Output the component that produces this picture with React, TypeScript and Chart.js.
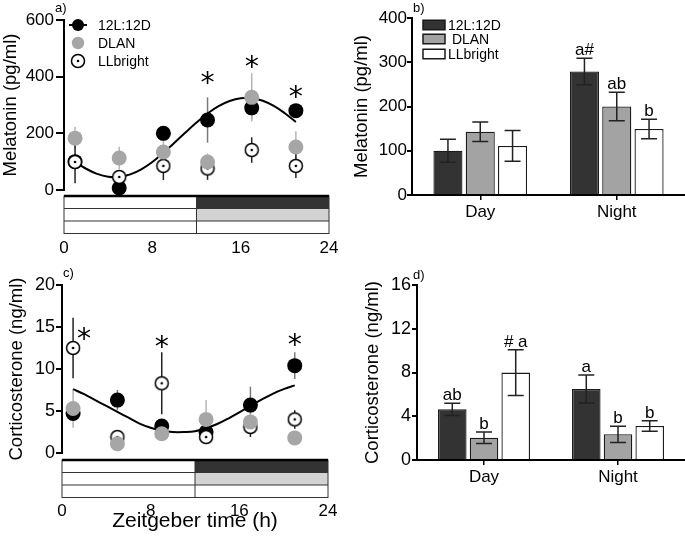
import React, { useEffect, useRef } from 'react';
import { Chart, registerables } from 'chart.js';

Chart.register(...registerables);

const FONT = "'Liberation Sans', Arial, Helvetica, sans-serif";
const STAR_FONT = "'DejaVu Sans', sans-serif";

// ---------- shared categories ----------
const sampleHours = [1, 5, 9, 13, 17, 21];
const fitHours = [1, 2, 3, 4, 5, 6, 7, 8, 9, 10, 11, 12, 13, 14, 15, 16, 17, 18, 19, 20, 21];
const hourTicks = [0, 8, 16, 24];
const groupNames = ['12L:12D', 'DLAN', 'LLbright'];
const phaseNames = ['Day', 'Night'];
const lightBoundaryHour = 12;

// ---------- a) melatonin daily profile ----------
const melLD = [100, 7, 200, 247, 290, 280];
const melLDErr = [20, 8, 25, 80, 40, 18];
const melDLAN = [183, 113, 134, 99, 327, 152];
const melDLANErr = [40, 40, 60, 30, 85, 55];
const melLL = [99, 46, 85, 76, 141, 85];
const melLLErr = [75, 20, 50, 40, 45, 43];
const melFit = [100, 75, 57, 47, 46, 55, 73, 99, 131, 167, 203, 238, 270, 296, 314, 324, 325, 315, 297, 271, 240];
const melTicks = [0, 200, 400, 600];
const melStarHours = [13, 17, 21];
const melStarLevels = [395, 452, 346];

// ---------- b) melatonin day / night ----------
const melBarLD = [100, 279];
const melBarLDErr = [26, 30];
const melBarDLAN = [143, 200];
const melBarDLANErr = [22, 32];
const melBarLL = [111, 149];
const melBarLLErr = [35, 22];
const melBarLetters = [['', 'a#'], ['', 'ab'], ['', 'b']];
const melBarTicks = [0, 100, 200, 300, 400];

// ---------- c) corticosterone daily profile ----------
const corLD = [4.7, 6.3, 3.2, 2.5, 5.7, 10.4];
const corLDErr = [0.5, 1.2, 0.6, 0.5, 2.2, 1.6];
const corDLAN = [5.3, 1.1, 2.3, 4.0, 3.7, 1.8];
const corDLANErr = [2.3, 0.4, 0.5, 2.3, 1.0, 0.4];
const corLL = [12.5, 1.9, 8.3, 1.9, 3.1, 4.0];
const corLLErr = [3.6, 0.4, 3.7, 0.5, 1.2, 1.1];
const corFit = [7.6, 7.0, 6.3, 5.6, 4.9, 4.2, 3.5, 3.0, 2.65, 2.5, 2.5, 2.6, 2.95, 3.45, 4.1, 4.85, 5.6, 6.35, 7.05, 7.6, 8.05];
const corTicks = [0, 5, 10, 15, 20];
const corStarHours = [2, 9, 21];
const corStarLevels = [14.2, 13.2, 13.5];

// ---------- d) corticosterone day / night ----------
const corBarLD = [4.63, 6.49];
const corBarLDErr = [0.56, 1.28];
const corBarDLAN = [2.04, 2.35];
const corBarDLANErr = [0.53, 0.74];
const corBarLL = [7.99, 3.11];
const corBarLLErr = [2.1, 0.49];
const corBarLetters = [['ab', 'a'], ['b', 'b'], ['# a', 'b']];
const corBarTicks = [0, 4, 8, 12, 16];

// ---------- styles ----------
const BLACK = '#000000';
const GREY_PT = '#a6a6a6';
const BAR_COLORS = ['#333333', '#a3a3a3', '#ffffff'];
const SCHEDULE = [
  ['#ffffff', '#333333'],
  ['#ffffff', '#d3d3d3'],
  ['#ffffff', '#ffffff'],
];

function makeLLPoint(r: number) {
  const c = document.createElement('canvas');
  const s = Math.ceil(r * 2 + 3);
  c.width = s;
  c.height = s;
  const g = c.getContext('2d')!;
  g.beginPath();
  g.arc(s / 2, s / 2, r, 0, Math.PI * 2);
  g.fillStyle = '#fff';
  g.fill();
  g.lineWidth = 1.5;
  g.strokeStyle = '#000';
  g.stroke();
  g.beginPath();
  g.arc(s / 2, s / 2, 1.3, 0, Math.PI * 2);
  g.fillStyle = '#000';
  g.fill();
  return c;
}

function drawStar(ctx: CanvasRenderingContext2D, x: number, cy: number) {
  ctx.save();
  ctx.font = `100px ${STAR_FONT}`;
  const m = ctx.measureText('*');
  const h100 = m.actualBoundingBoxAscent + m.actualBoundingBoxDescent;
  const size = (13 / h100) * 100;
  ctx.font = `${size}px ${STAR_FONT}`;
  const m2 = ctx.measureText('*');
  ctx.textAlign = 'center';
  ctx.textBaseline = 'alphabetic';
  ctx.fillStyle = '#000';
  const base = cy - (m2.actualBoundingBoxDescent - m2.actualBoundingBoxAscent) / 2;
  ctx.fillText('*', x, base);
  ctx.restore();
}

function tickSetter(values: number[]) {
  return (s: any) => {
    s.ticks = values.map((v) => ({ value: v }));
  };
}

interface ScatterCfg {
  ld: number[]; ldErr: number[];
  dlan: number[]; dlanErr: number[];
  ll: number[]; llErr: number[];
  fit: number[];
  yTicks: number[];
  yTitle: string;
  yTitlePad: number;
  yTickSize: number;
  yTickLen: number;
  yTickPad: number;
  area: { left: number; right: number; top: number; bottom: number; w: number; h: number };
  starHours: number[];
  starLevels: number[];
  legend: boolean;
  xTitle?: string;
  xTickDrop: number;
  scheduleGap: number;
  label: string;
  labelPos: [number, number];
}

function scatterConfig(c: ScatterCfg): any {
  const pts = (vals: number[]) => sampleHours.map((h, i) => ({ x: h, y: vals[i] }));
  const llImg = makeLLPoint(6.5);
  const errSets = [
    { vals: c.ld, errs: c.ldErr, color: '#7a7a7a' },
    { vals: c.dlan, errs: c.dlanErr, color: '#b5b5b5' },
    { vals: c.ll, errs: c.llErr, color: '#222222' },
  ];
  const plugin = {
    id: 'scatterExtras',
    beforeDatasetsDraw(chart: any) {
      const { ctx, scales } = chart;
      const x = scales.x, y = scales.y;
      ctx.save();
      errSets.forEach((set) => {
        ctx.strokeStyle = set.color;
        ctx.lineWidth = 1.5;
        sampleHours.forEach((h, i) => {
          const px = x.getPixelForValue(h);
          ctx.beginPath();
          ctx.moveTo(px, y.getPixelForValue(set.vals[i] - set.errs[i]));
          ctx.lineTo(px, y.getPixelForValue(set.vals[i] + set.errs[i]));
          ctx.stroke();
        });
      });
      ctx.restore();
    },
    afterDraw(chart: any) {
      const { ctx, scales, chartArea } = chart;
      const x = scales.x, y = scales.y;
      ctx.save();
      // light schedule bar
      const x0 = x.getPixelForValue(0);
      const xm = x.getPixelForValue(lightBoundaryHour);
      const x1 = x.getPixelForValue(24);
      const top = chartArea.bottom + c.scheduleGap;
      const rowH = 12.5;
      SCHEDULE.forEach((row, r) => {
        ctx.fillStyle = row[0];
        ctx.fillRect(x0, top + r * rowH, xm - x0, rowH);
        ctx.fillStyle = row[1];
        ctx.fillRect(xm, top + r * rowH, x1 - xm, rowH);
      });
      ctx.strokeStyle = '#333';
      ctx.lineWidth = 1;
      ctx.strokeRect(x0, top, x1 - x0, rowH * 3);
      for (let r = 1; r < 3; r++) {
        ctx.beginPath();
        ctx.moveTo(x0, top + r * rowH);
        ctx.lineTo(x1, top + r * rowH);
        ctx.stroke();
      }
      ctx.beginPath();
      ctx.moveTo(xm, top);
      ctx.lineTo(xm, top + rowH * 3);
      ctx.stroke();
      ctx.strokeStyle = '#000';
      ctx.lineWidth = 2.5;
      ctx.beginPath();
      ctx.moveTo(x0, top);
      ctx.lineTo(x1, top);
      ctx.stroke();
      // stars
      c.starHours.forEach((h, i) => drawStar(ctx, x.getPixelForValue(h), y.getPixelForValue(c.starLevels[i])));
      // legend
      if (c.legend) {
        const lx = chartArea.left + 14;
        const tx = chartArea.left + 34;
        const rows = [chartArea.top + 5, chartArea.top + 23, chartArea.top + 41];
        ctx.font = `14px ${FONT}`;
        ctx.textAlign = 'left';
        ctx.textBaseline = 'middle';
        ctx.strokeStyle = '#000';
        ctx.lineWidth = 2;
        ctx.beginPath();
        ctx.moveTo(lx - 9, rows[0]);
        ctx.lineTo(lx + 9, rows[0]);
        ctx.stroke();
        ctx.beginPath();
        ctx.arc(lx, rows[0], 6, 0, Math.PI * 2);
        ctx.fillStyle = '#000';
        ctx.fill();
        ctx.beginPath();
        ctx.arc(lx, rows[1], 6.2, 0, Math.PI * 2);
        ctx.fillStyle = GREY_PT;
        ctx.fill();
        ctx.drawImage(llImg, lx - llImg.width / 2, rows[2] - llImg.height / 2);
        ctx.fillStyle = '#000';
        groupNames.forEach((n, i) => ctx.fillText(n, tx, rows[i] + 1));
      }
      // panel label
      ctx.font = `13px ${FONT}`;
      ctx.textAlign = 'left';
      ctx.textBaseline = 'alphabetic';
      ctx.fillStyle = '#000';
      ctx.fillText(c.label, c.labelPos[0], c.labelPos[1]);
      ctx.restore();
    },
  };

  const a = c.area;
  return {
    type: 'scatter',
    data: {
      datasets: [
        {
          type: 'line',
          data: fitHours.map((h, i) => ({ x: h, y: c.fit[i] })),
          borderColor: '#000',
          borderWidth: 2,
          pointRadius: 0,
          tension: 0.4,
          fill: false,
          order: 3,
          clip: false,
        },
        {
          label: groupNames[0],
          data: pts(c.ld),
          backgroundColor: BLACK,
          borderWidth: 0,
          pointRadius: 7.5,
          order: 2,
          clip: false,
        },
        {
          label: groupNames[2],
          data: pts(c.ll),
          pointStyle: llImg,
          pointRadius: 7,
          order: 1,
          clip: false,
        },
        {
          label: groupNames[1],
          data: pts(c.dlan),
          backgroundColor: GREY_PT,
          borderWidth: 0,
          pointRadius: 7.5,
          order: 0,
          clip: false,
        },
      ],
    },
    options: {
      animation: false,
      responsive: false,
      events: [],
      layout: { padding: { left: 0, right: a.w - a.right, top: a.top, bottom: 0 } },
      plugins: { legend: { display: false }, tooltip: { enabled: false }, title: { display: false } },
      scales: {
        x: {
          type: 'linear',
          min: 0,
          max: 24,
          afterBuildTicks: tickSetter(hourTicks),
          afterFit: (s: any) => { s.height = a.h - a.bottom; },
          border: { display: false },
          grid: { display: false, drawTicks: true, tickLength: c.xTickDrop },
          ticks: { padding: 0, color: '#000', font: { family: FONT, size: 17 }, maxRotation: 0 },
          title: c.xTitle
            ? { display: true, text: c.xTitle, color: '#000', font: { family: FONT, size: 21 }, padding: { top: 0, bottom: 3 } }
            : { display: false },
        },
        y: {
          type: 'linear',
          min: c.yTicks[0],
          max: c.yTicks[c.yTicks.length - 1],
          afterBuildTicks: tickSetter(c.yTicks),
          afterFit: (s: any) => { s.width = a.left; },
          border: { display: true, color: '#000', width: 2 },
          grid: { drawOnChartArea: false, drawTicks: true, tickLength: c.yTickLen, color: '#000', lineWidth: 2 },
          ticks: { padding: c.yTickPad, color: '#000', font: { family: FONT, size: c.yTickSize } },
          title: { display: true, text: c.yTitle, color: '#000', font: { family: FONT, size: 18.5 }, padding: { top: c.yTitlePad, bottom: 0 } },
        },
      },
    },
    plugins: [plugin],
  };
}

interface BarCfg {
  series: number[][];
  errs: number[][];
  letters: string[][];
  yTicks: number[];
  yTitle: string;
  yTitlePad: number;
  yTickSize: number;
  yTickPad: number;
  area: { left: number; right: number; top: number; bottom: number; w: number; h: number };
  legend: boolean;
  label: string;
  labelPos: [number, number];
}

function barConfig(c: BarCfg): any {
  const plugin = {
    id: 'barExtras',
    afterDatasetsDraw(chart: any) {
      const { ctx, scales, chartArea } = chart;
      const y = scales.y;
      ctx.save();
      chart.data.datasets.forEach((ds: any, di: number) => {
        const meta = chart.getDatasetMeta(di);
        meta.data.forEach((bar: any, i: number) => {
          const v = ds.data[i];
          const e = c.errs[di][i];
          const px = bar.x;
          const yt = y.getPixelForValue(v + e);
          const yb = y.getPixelForValue(v - e);
          ctx.strokeStyle = '#222';
          ctx.lineWidth = 1.5;
          ctx.beginPath();
          ctx.moveTo(px, yt);
          ctx.lineTo(px, yb);
          ctx.moveTo(px - 8, yt);
          ctx.lineTo(px + 8, yt);
          ctx.moveTo(px - 8, yb);
          ctx.lineTo(px + 8, yb);
          ctx.stroke();
          const letter = c.letters[di][i];
          if (letter) {
            ctx.font = `17px ${FONT}`;
            ctx.textAlign = 'center';
            ctx.textBaseline = 'alphabetic';
            ctx.fillStyle = '#000';
            ctx.fillText(letter, px, yt - 3);
          }
        });
      });
      if (c.legend) {
        const bx = chartArea.left + 11;
        const tx = chartArea.left + 36;
        const rows = [chartArea.top + 7, chartArea.top + 21, chartArea.top + 36];
        ctx.font = `14px ${FONT}`;
        ctx.textAlign = 'left';
        ctx.textBaseline = 'middle';
        const legendTexts = ['12L:12D', ' DLAN', 'LLbright'];
        rows.forEach((ry, i) => {
          ctx.fillStyle = BAR_COLORS[i];
          ctx.fillRect(bx, ry - 4.75, 22, 9.5);
          ctx.strokeStyle = '#1a1a1a';
          ctx.lineWidth = 1.5;
          ctx.strokeRect(bx, ry - 4.75, 22, 9.5);
          ctx.fillStyle = '#000';
          ctx.fillText(legendTexts[i], tx, ry + 1);
        });
      }
      ctx.font = `13px ${FONT}`;
      ctx.textAlign = 'left';
      ctx.textBaseline = 'alphabetic';
      ctx.fillStyle = '#000';
      ctx.fillText(c.label, c.labelPos[0], c.labelPos[1]);
      ctx.restore();
    },
  };
  const a = c.area;
  return {
    type: 'bar',
    data: {
      labels: phaseNames,
      datasets: c.series.map((s, i) => ({
        label: groupNames[i],
        data: s,
        backgroundColor: BAR_COLORS[i],
        borderColor: '#1a1a1a',
        borderWidth: 1.3,
        barPercentage: 0.9,
        categoryPercentage: 0.71,
      })),
    },
    options: {
      animation: false,
      responsive: false,
      events: [],
      layout: { padding: { left: 0, right: a.w - a.right, top: a.top, bottom: 0 } },
      plugins: { legend: { display: false }, tooltip: { enabled: false }, title: { display: false } },
      scales: {
        x: {
          offset: true,
          afterFit: (s: any) => { s.height = a.h - a.bottom; },
          border: { display: true, color: '#000', width: 2 },
          grid: { display: true, drawOnChartArea: false, drawTicks: true, tickLength: 5, offset: false, color: '#000', lineWidth: 1.5 },
          ticks: { padding: 2, color: '#000', font: { family: FONT, size: 17 } },
        },
        y: {
          type: 'linear',
          min: c.yTicks[0],
          max: c.yTicks[c.yTicks.length - 1],
          afterBuildTicks: tickSetter(c.yTicks),
          afterFit: (s: any) => { s.width = a.left; },
          border: { display: true, color: '#000', width: 2 },
          grid: { drawOnChartArea: false, drawTicks: true, tickLength: 5, color: '#000', lineWidth: 2 },
          ticks: { padding: c.yTickPad, color: '#000', font: { family: FONT, size: c.yTickSize } },
          title: { display: true, text: c.yTitle, color: '#000', font: { family: FONT, size: 18.5 }, padding: { top: c.yTitlePad, bottom: 0 } },
        },
      },
    },
    plugins: [plugin],
  };
}

function Panel(props: { left: number; top: number; width: number; height: number; build: () => any }) {
  const ref = useRef<HTMLCanvasElement>(null);
  useEffect(() => {
    const chart = new Chart(ref.current as HTMLCanvasElement, props.build());
    return () => chart.destroy();
  }, []);
  return (
    <canvas
      ref={ref}
      width={props.width}
      height={props.height}
      style={{ position: 'absolute', left: props.left, top: props.top, width: props.width, height: props.height }}
    />
  );
}

const buildA = () =>
  scatterConfig({
    ld: melLD, ldErr: melLDErr, dlan: melDLAN, dlanErr: melDLANErr, ll: melLL, llErr: melLLErr,
    fit: melFit, yTicks: melTicks, yTitle: 'Melatonin (pg/ml)', yTitlePad: 0, yTickSize: 17, yTickLen: 8, yTickPad: 2,
    area: { left: 64, right: 329, top: 20, bottom: 190, w: 340, h: 260 },
    starHours: melStarHours, starLevels: melStarLevels, legend: true,
    xTickDrop: 48, scheduleGap: 6, label: 'a)', labelPos: [55, 12],
  });

const buildC = () =>
  scatterConfig({
    ld: corLD, ldErr: corLDErr, dlan: corDLAN, dlanErr: corDLANErr, ll: corLL, llErr: corLLErr,
    fit: corFit, yTicks: corTicks, yTitle: 'Corticosterone (ng/ml)', yTitlePad: 6, yTickSize: 18, yTickLen: 6, yTickPad: 1,
    area: { left: 62, right: 328, top: 25, bottom: 193, w: 340, h: 277 },
    starHours: corStarHours, starLevels: corStarLevels, legend: false,
    xTitle: 'Zeitgeber time (h)', xTickDrop: 48, scheduleGap: 7, label: 'c)', labelPos: [63, 17],
  });

const buildB = () =>
  barConfig({
    series: [melBarLD, melBarDLAN, melBarLL],
    errs: [melBarLDErr, melBarDLANErr, melBarLLErr],
    letters: melBarLetters, yTicks: melBarTicks, yTitle: 'Melatonin (pg/ml)', yTitlePad: 11, yTickSize: 17, yTickPad: 0,
    area: { left: 72, right: 345, top: 18, bottom: 195, w: 345, h: 260 },
    legend: true, label: 'b)', labelPos: [73, 12],
  });

const buildD = () =>
  barConfig({
    series: [corBarLD, corBarDLAN, corBarLL],
    errs: [corBarLDErr, corBarDLANErr, corBarLLErr],
    letters: corBarLetters, yTicks: corBarTicks, yTitle: 'Corticosterone (ng/ml)', yTitlePad: 22, yTickSize: 18, yTickPad: 1,
    area: { left: 77, right: 345, top: 25, bottom: 200, w: 345, h: 277 },
    legend: false, label: 'd)', labelPos: [73, 19],
  });

export default function App() {
  return (
    <div style={{ position: 'absolute', left: 0, top: 0, width: 685, height: 537, overflow: 'hidden', background: '#fff' }}>
      <Panel left={0} top={0} width={340} height={260} build={buildA} />
      <Panel left={340} top={0} width={345} height={260} build={buildB} />
      <Panel left={0} top={260} width={340} height={277} build={buildC} />
      <Panel left={340} top={260} width={345} height={277} build={buildD} />
    </div>
  );
}
